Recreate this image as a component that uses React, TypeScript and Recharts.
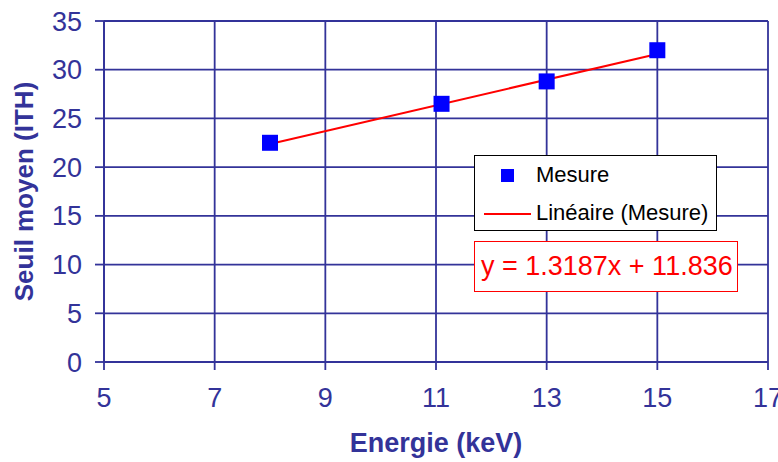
import React from 'react';
import { ScatterChart, Scatter, XAxis, YAxis, CartesianGrid, Legend } from 'recharts';

const energie = [8, 11.1, 13, 15];
const seuil = [22.5, 26.5, 28.8, 32.0];
const trendX = [8, 15];
const trendY = [22.38, 31.62];
const xTicks = [5, 7, 9, 11, 13, 15, 17];
const yTicks = [0, 5, 10, 15, 20, 25, 30, 35];
const equation = 'y = 1.3187x + 11.836';

const mesure = energie.map((x, i) => ({ x, y: seuil[i] }));
const trend = trendX.map((x, i) => ({ x, y: trendY[i] }));

const NAVY = '#333399';
const FONT = '"Liberation Sans", Arial, sans-serif';

const Square = (props: any) => {
  const { cx, cy } = props;
  if (cx == null || cy == null) return null;
  return <rect x={cx - 8} y={cy - 8} width={16} height={16} fill="#0000ff" />;
};

const NoShape = () => null;

const XLabel = (props: any) => {
  const vb = props.viewBox || {};
  const x = vb.x + vb.width / 2;
  const y = vb.y + vb.height - 10;
  return (
    <text x={x} y={y} textAnchor="middle" fill={NAVY} fontFamily={FONT} fontWeight="bold" fontSize={27}>
      Energie (keV)
    </text>
  );
};

const YLabel = (props: any) => {
  const vb = props.viewBox || {};
  const x = vb.x + 24;
  const y = vb.y + vb.height / 2;
  return (
    <text
      x={x}
      y={y}
      transform={`rotate(-90 ${x} ${y})`}
      textAnchor="middle"
      dominantBaseline="central"
      fill={NAVY}
      fontFamily={FONT}
      fontWeight="bold"
      fontSize={26}
    >
      Seuil moyen (ITH)
    </text>
  );
};

const LegendBox = () => (
  <div
    style={{
      position: 'absolute',
      left: 474,
      top: 155,
      width: 243,
      height: 76,
      boxSizing: 'border-box',
      border: '1.5px solid #000',
      background: '#fff',
      fontFamily: FONT,
      fontSize: 22,
      color: '#000',
    }}
  >
    <div style={{ position: 'absolute', left: 26, top: 13, width: 13, height: 13, background: '#0000ff' }} />
    <div style={{ position: 'absolute', left: 61, top: 6, lineHeight: '26px' }}>Mesure</div>
    <div style={{ position: 'absolute', left: 9, top: 57, width: 47, height: 2, background: '#ff0000' }} />
    <div style={{ position: 'absolute', left: 61, top: 44, lineHeight: '26px', whiteSpace: 'nowrap' }}>Linéaire (Mesure)</div>
  </div>
);

export default function App() {
  return (
    <div style={{ position: 'absolute', left: 0, top: 0, width: 778, height: 462, background: '#fff' }}>
      <ScatterChart width={778} height={462} margin={{ top: 21, right: 10, left: 0, bottom: 0 }}>
        <CartesianGrid stroke={NAVY} strokeWidth={1.8} horizontal vertical />
        <XAxis
          type="number"
          dataKey="x"
          domain={[5, 17]}
          ticks={xTicks}
          interval={0}
          height={100}
          tickSize={8}
          tickMargin={18}
          axisLine={{ stroke: NAVY, strokeWidth: 1.8 }}
          tickLine={{ stroke: NAVY, strokeWidth: 1.8 }}
          tick={{ fill: NAVY, fontSize: 27, fontFamily: FONT }}
          label={<XLabel />}
        />
        <YAxis
          type="number"
          dataKey="y"
          domain={[0, 35]}
          ticks={yTicks}
          interval={0}
          width={104}
          tickSize={9}
          tickMargin={13}
          axisLine={{ stroke: NAVY, strokeWidth: 1.8 }}
          tickLine={{ stroke: NAVY, strokeWidth: 1.8 }}
          tick={{ fill: NAVY, fontSize: 27, fontFamily: FONT }}
          label={<YLabel />}
        />
        <Scatter
          name="Linéaire (Mesure)"
          data={trend}
          line={{ stroke: '#ff0000', strokeWidth: 2 }}
          shape={<NoShape />}
          isAnimationActive={false}
        />
        <Scatter name="Mesure" data={mesure} shape={<Square />} isAnimationActive={false} />
      </ScatterChart>
      <LegendBox />
      <div
        style={{
          position: 'absolute',
          left: 474,
          top: 241,
          width: 264,
          height: 51,
          boxSizing: 'border-box',
          border: '1.5px solid #ff0000',
          background: '#fff',
          color: '#ff0000',
          fontFamily: FONT,
          fontSize: 27,
          lineHeight: '48px',
          paddingLeft: 6,
          whiteSpace: 'nowrap',
        }}
      >
        {equation}
      </div>
    </div>
  );
}
